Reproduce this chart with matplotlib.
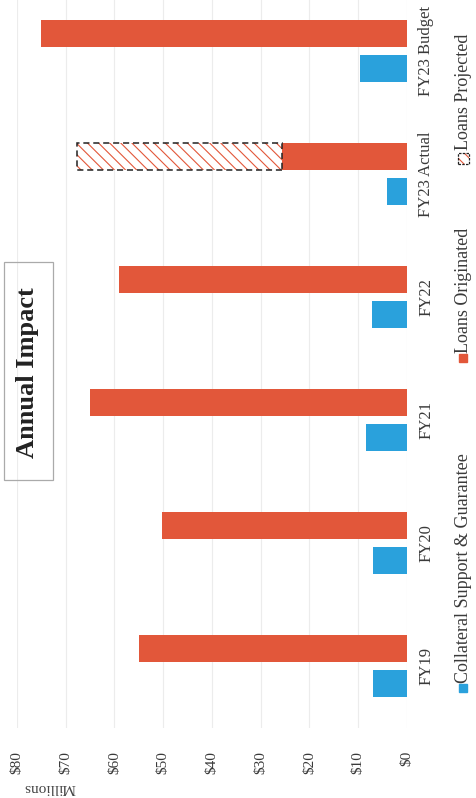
import matplotlib.pyplot as plt
from matplotlib.patches import Rectangle

categories = ['FY19', 'FY20', 'FY21', 'FY22', 'FY23 Actual', 'FY23 Budget']
collateral = [7.0, 7.0, 8.4, 7.2, 4.2, 9.6]
loans_originated = [55.0, 50.3, 65.0, 59.1, 25.7, 75.0]
projected_category = 'FY23 Actual'
projected_total = 67.7
tick_values = [0, 10, 20, 30, 40, 50, 60, 70, 80]

red = '#e2573a'
blue = '#2aa1dc'
serif = 'Liberation Serif'
plt.rcParams['hatch.linewidth'] = 0.8

fig = plt.figure(figsize=(4.77, 7.98), dpi=100)
# chart is drawn rotated (the scan was turned 90 degrees)
ax = fig.add_axes([17 / 477, 70.5 / 798, 390 / 477, 727.5 / 798])

pos = list(range(len(categories)))
w = 0.22
ax.barh([p - 0.14 for p in pos], collateral, height=w, color=blue, zorder=3)
ax.barh([p + 0.14 for p in pos], loans_originated, height=w, color=red, zorder=3)

# projected part of FY23 Actual
i = categories.index(projected_category)
base = loans_originated[i]
ax.barh(i + 0.14, projected_total - base, left=base, height=w, color='white',
        edgecolor=red, hatch='\\\\\\', linewidth=0, zorder=3)
ax.barh(i + 0.14, projected_total - base, left=base, height=w, fill=False,
        edgecolor='#222222', linestyle=(0, (4, 2.5)), linewidth=1.1, zorder=4)

ax.set_xlim(80, 0)
ax.set_ylim(-0.5, 5.415)
ax.set_xticks(tick_values)
ax.set_xticklabels(['$%d' % v for v in tick_values], rotation=90,
                   fontsize=11, family=serif, color='#3a3a3a')
ax.tick_params(axis='x', length=0, pad=17)
ax.yaxis.tick_right()
ax.set_yticks(pos)
ax.set_yticklabels(categories, rotation=90, va='center', fontsize=12,
                   family=serif, color='#3a3a3a')
ax.tick_params(axis='y', length=0, pad=8)
ax.grid(axis='x', color='#ececec', linewidth=0.8, zorder=0)
for s in ax.spines.values():
    s.set_visible(False)

fig.text(50 / 477, 1 - 788 / 798, 'Millions', rotation=180, ha='center',
         va='center', fontsize=11, family=serif, color='#444444')

# title box
fig.patches.append(Rectangle((4 / 477, 1 - 480 / 798), 49 / 477, 218 / 798,
                             transform=fig.transFigure, fill=False,
                             edgecolor='#aaaaaa', linewidth=0.9))
fig.text(28 / 477, 1 - 373 / 798, 'Annual Impact', rotation=90, ha='center',
         va='center', fontsize=19, fontweight='bold', family=serif, color='#222222')

# legend
legend_x = 464 / 477
fig.patches.append(Rectangle((459 / 477, 1 - 692 / 798), 8 / 477, 8 / 798,
                             transform=fig.transFigure, color=blue))
fig.text(legend_x, 1 - 683 / 798, 'Collateral Support & Guarantee', rotation=90,
         ha='center', va='bottom', fontsize=13, family=serif, color='#3a3a3a')
fig.patches.append(Rectangle((459 / 477, 1 - 362 / 798), 8 / 477, 8 / 798,
                             transform=fig.transFigure, color=red))
fig.text(legend_x, 1 - 353 / 798, 'Loans Originated', rotation=90,
         ha='center', va='bottom', fontsize=13, family=serif, color='#3a3a3a')
fig.patches.append(Rectangle((458 / 477, 1 - 164 / 798), 11 / 477, 11 / 798,
                             transform=fig.transFigure, facecolor='white',
                             edgecolor=red, hatch='\\\\\\', linewidth=0))
fig.patches.append(Rectangle((458 / 477, 1 - 164 / 798), 11 / 477, 11 / 798,
                             transform=fig.transFigure, fill=False,
                             edgecolor='#222222', linestyle=(0, (2, 1)), linewidth=0.9))
fig.text(legend_x, 1 - 150 / 798, 'Loans Projected', rotation=90,
         ha='center', va='bottom', fontsize=13, family=serif, color='#3a3a3a')

fig.savefig('out.png', dpi=100)
